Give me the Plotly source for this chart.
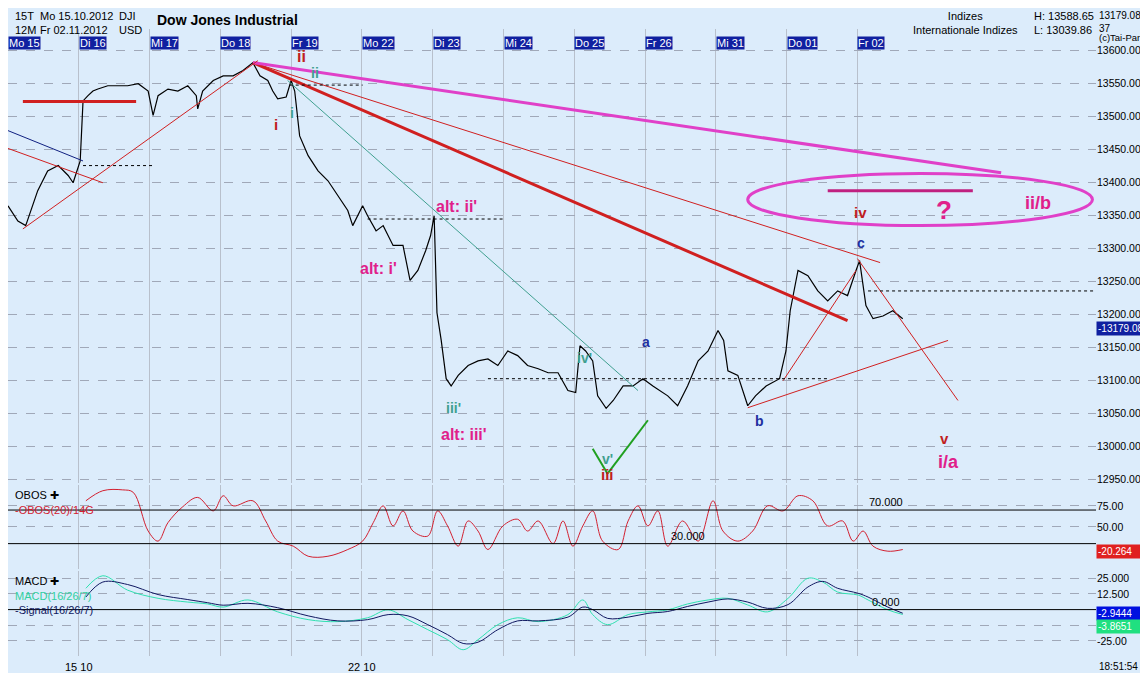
import plotly.graph_objects as go

# day labels (x in trading days from Mo 15.10.)
day_pos = [0, 1, 2, 3, 4, 5, 6, 7, 8, 9, 10, 11, 12]
day_labels = ["Mo 15", "Di 16", "Mi 17", "Do 18", "Fr 19", "Mo 22", "Di 23", "Mi 24", "Do 25", "Fr 26", "Mi 31", "Do 01", "Fr 02"]

# price (15 min)
px_x = [0, .14, .25, .42, .56, .71, .85, .92, 1.02, 1.06, 1.13, 1.2, 1.27, 1.41, 1.69, 1.84, 1.98, 2.05, 2.12, 2.26,
        2.4, 2.54, 2.66, 2.68, 2.75, 2.9, 3.04, 3.18, 3.32, 3.46, 3.56, 3.67, 3.74, 3.81, 3.93, 4.0, 4.05, 4.12, 4.24, 4.38,
        4.52, 4.66, 4.8, 4.87, 5.01, 5.08, 5.2, 5.3, 5.44, 5.58, 5.68, 5.79, 5.9, 5.97, 6.02, 6.06, 6.12, 6.19, 6.26, 6.36,
        6.5, 6.64, 6.78, 6.92, 7.06, 7.2, 7.34, 7.49, 7.63, 7.77, 7.91, 8.02, 8.08, 8.16, 8.26, 8.33, 8.45, 8.55, 8.69, 8.83,
        8.97, 9.11, 9.32, 9.46, 9.6, 9.75, 9.89, 10.03, 10.11, 10.17, 10.31, 10.45, 10.56, 10.71, 10.9, 10.99, 11.05, 11.16, 11.3, 11.44,
        11.58, 11.72, 11.86, 11.98, 12.03, 12.12, 12.22, 12.36, 12.5, 12.64]
px_y = [13365, 13342, 13335, 13388, 13418, 13426, 13411, 13400, 13433, 13524, 13532, 13539, 13542, 13547, 13547, 13550, 13539, 13502, 13532, 13542,
        13539, 13547, 13532, 13512, 13539, 13555, 13562, 13562, 13570, 13582, 13562, 13555, 13539, 13527, 13530, 13555, 13539, 13471, 13441, 13418,
        13403, 13380, 13358, 13335, 13365, 13350, 13327, 13335, 13305, 13305, 13252, 13267, 13297, 13320, 13350, 13203, 13161, 13103, 13092, 13108,
        13123, 13130, 13133, 13123, 13145, 13138, 13123, 13118, 13112, 13112, 13085, 13082, 13153, 13145, 13130, 13077, 13058, 13070, 13092, 13092,
        13103, 13092, 13077, 13062, 13092, 13130, 13145, 13176, 13161, 13115, 13108, 13062, 13077, 13092, 13103, 13145, 13206, 13267, 13259, 13236,
        13221, 13236, 13229, 13267, 13282, 13214, 13194, 13198, 13206, 13194]

# OBOS(20)/14G
ob_x = [1.1, 1.34, 1.62, 1.77, 1.98, 2.12, 2.26, 2.47, 2.68, 2.9, 3.04, 3.18, 3.46, 3.64, 3.81, 4.03, 4.24, 4.52, 4.8, 5.01,
        5.16, 5.3, 5.44, 5.58, 5.72, 5.93, 6.07, 6.21, 6.36, 6.5, 6.64, 6.78, 6.99, 7.2, 7.34, 7.49, 7.7, 7.84, 7.98, 8.12,
        8.26, 8.4, 8.62, 8.76, 8.9, 9.04, 9.18, 9.32, 9.53, 9.75, 9.96, 10.1, 10.31, 10.52, 10.73, 10.95, 11.16, 11.37, 11.58, 11.79,
        11.94, 12.08, 12.22, 12.43, 12.64]
ob_y = [81, 93, 94, 91, 45, 33, 55, 74, 85, 69, 87, 75, 81, 57, 33, 27, 15, 15, 23, 33,
        55, 75, 51, 69, 45, 39, 69, 51, 27, 57, 45, 23, 51, 59, 45, 57, 30, 57, 27, 51,
        69, 33, 23, 57, 75, 51, 69, 27, 57, 33, 81, 45, 33, 45, 75, 69, 87, 81, 51, 57,
        33, 45, 27, 21, 23]

# MACD(16/26/7) and Signal(16/26/7)
md_x = [1.1, 1.34, 1.69, 2.12, 2.54, 2.82, 3.04, 3.39, 3.81, 4.24, 4.66, 5.08, 5.37, 5.65, 5.93, 6.21, 6.43, 6.64, 6.92, 7.2,
        7.49, 7.91, 8.12, 8.26, 8.47, 8.76, 9.04, 9.32, 9.6, 9.89, 10.17, 10.45, 10.73, 11.02, 11.3, 11.51, 11.72, 12.01, 12.15, 12.43, 12.64]
macd_y = [17, 27, 15.5, 9, 6, 4.5, 2, 7.7, -1.8, -8, -9.6, -6.5, -0.2, -8, -16, -24, -32, -24, -12, -6.5,
          -9.6, -4, 7.7, -4, -12, -4, -1.8, -0.2, 4.5, 7.7, 9, 3.7, -1.8, 9, 25, 22, 14, 11.6, 7.7, -0.2, -3.9]
sig_y = [10, 22, 20, 12, 8, 5.5, 3.5, 5, 1.5, -5, -9, -8, -4, -5, -12, -20, -27, -26, -16, -9,
         -9, -6, 2, 0, -7, -6, -3, -1.5, 2.5, 6, 8.5, 6, 1, 4, 18, 22.5, 17, 13, 10, 2, -2.9]

last_price = 13179.08
high_price = 13588.65
low_price = 13039.86
obos_last = 20.264
macd_last = -2.9444
sig_last = -3.8651

BG = "#dcecfb"
fig = go.Figure()
fig.add_trace(go.Scatter(x=px_x, y=px_y, mode="lines", line=dict(color="black", width=1.2),
                         xaxis="x", yaxis="y", showlegend=False))
fig.add_trace(go.Scatter(x=ob_x, y=ob_y, mode="lines", line=dict(color="#d22030", width=1),
                         xaxis="x2", yaxis="y2", line_shape="spline", showlegend=False))
fig.add_trace(go.Scatter(x=md_x, y=macd_y, mode="lines", line=dict(color="#30e0b0", width=1),
                         xaxis="x3", yaxis="y3", line_shape="spline", showlegend=False))
fig.add_trace(go.Scatter(x=md_x, y=sig_y, mode="lines", line=dict(color="#101860", width=1),
                         xaxis="x3", yaxis="y3", line_shape="spline", showlegend=False))

xr = [0, 15.37]
grid = dict(showgrid=True, gridcolor="#a0a8b8", griddash="dash", gridwidth=1, tickfont=dict(size=10.5))
xcommon = dict(range=xr, tickvals=day_pos, showticklabels=False, showgrid=True, gridcolor="#b8c0cc",
               zeroline=False, ticks="")
fig.update_layout(
    width=1148, height=673, paper_bgcolor=BG, plot_bgcolor=BG,
    margin=dict(l=0, r=60, t=21, b=25),
    font=dict(family="Liberation Sans, Arial", size=11, color="black"),
    xaxis=dict(domain=[0, 1], anchor="y", **xcommon),
    xaxis2=dict(domain=[0, 1], anchor="y2", matches="x", **xcommon),
    xaxis3=dict(domain=[0, 1], anchor="y3", matches="x", **xcommon),
    yaxis=dict(domain=[0.276, 1], range=[12945, 13633], side="right", tickvals=[12950 + 50 * i for i in range(14)],
               ticktext=["%.2f" % (12950 + 50 * i) for i in range(14)], zeroline=False, **grid),
    yaxis2=dict(domain=[0.139, 0.273], range=[0, 100], side="right", tickvals=[50, 75], ticktext=["50.00", "75.00"],
                zeroline=False, **grid),
    yaxis3=dict(domain=[0, 0.136], range=[-37, 31], side="right", tickvals=[-25, -12.5, 12.5, 25],
                ticktext=["-25.00", "", "12.500", "25.000"], zeroline=False, **grid),
)


def line(x0, y0, x1, y1, color, width=1, dash="solid", ax="", **kw):
    fig.add_shape(type="line", x0=x0, y0=y0, x1=x1, y1=y1, xref="x" + ax, yref="y" + ax,
                  line=dict(color=color, width=width, dash=dash), **kw)


# trend lines
line(3.46, 13582, 11.86, 13191, "#d02020", 3)
line(3.46, 13582, 12.32, 13279, "#d02020", 1)
line(3.46, 13582, 14.03, 13415, "#e040c8", 3)
line(3.95, 13555, 8.9, 13085, "#40a090", 1)
line(0.21, 13330, 3.53, 13585, "#d02020", 1)
line(0, 13479, 1.06, 13433, "#102080", 1)
line(0, 13452, 1.34, 13400, "#d02020", 1)
line(0.21, 13523, 1.81, 13523, "#d02020", 3)
line(10.45, 13059, 13.28, 13161, "#d02020", 1)
line(10.95, 13100, 11.98, 13267, "#d02020", 1)
line(12.0, 13285, 13.42, 13070, "#d02020", 1)
line(11.58, 13388, 13.63, 13388, "#c02080", 3)
for a, b, y in [(1.06, 2.05, 13426), (3.98, 5.01, 13548), (5.08, 6.99, 13345), (6.78, 11.58, 13103), (12.15, 15.37, 13236)]:
    line(a, y, b, y, "black", 1, "dot")
line(8.26, 12997, 8.47, 12959, "#20a020", 2)
line(8.47, 12959, 9.04, 13040, "#20a020", 2)
fig.add_shape(type="circle", x0=10.45, x1=15.32, y0=13335, y1=13414, xref="x", yref="y",
              line=dict(color="#e040c8", width=3))
# indicator levels
line(0, 70, 15.37, 70, "black", 1, ax="2")
line(0, 30, 15.37, 30, "black", 1, ax="2")
line(0, 0, 15.37, 0, "black", 1, ax="3")

labels = [("ii", 4.14, 13592, "#c02020", 16), ("ii", 4.34, 13567, "#40a090", 14), ("i", 3.79, 13488, "#c02020", 15),
          ("i", 4.01, 13505, "#40a090", 14), ("alt: ii'", 6.33, 13364, "#e0208a", 16), ("alt: i'", 5.24, 13270, "#e0208a", 16),
          ("iii'", 6.29, 13058, "#40a090", 14), ("alt: iii'", 6.44, 13018, "#e0208a", 16), ("iv'", 8.14, 13135, "#40a090", 14),
          ("a", 9.01, 13158, "#2030a0", 14), ("v'", 8.47, 12982, "#40a090", 14), ("iii", 8.47, 12958, "#c02020", 15),
          ("b", 10.62, 13039, "#2030a0", 14), ("c", 12.05, 13308, "#2030a0", 14), ("iv", 12.05, 13355, "#c02020", 15),
          ("?", 13.22, 13359, "#e0208a", 26), ("ii/b", 14.55, 13370, "#e0208a", 18), ("v", 13.23, 13012, "#c02020", 15),
          ("i/a", 13.29, 12976, "#e0208a", 18)]
for t, x, y, c, s in labels:
    fig.add_annotation(x=x, y=y, text="<b>%s</b>" % t, showarrow=False, font=dict(color=c, size=s))

# day boxes
for p, lab in zip(day_pos, day_labels):
    fig.add_annotation(x=p, y=1, xref="x", yref="paper", text=lab, showarrow=False, xanchor="left", yanchor="top",
                       yshift=-7, bgcolor="#1020a0", font=dict(color="white", size=11), borderpad=0)
for p, lab in [(1, "15 10"), (5, "22 10")]:
    fig.add_annotation(x=p, y=0, xref="x", yref="paper", text=lab, showarrow=False, yanchor="top", yshift=-3,
                       font=dict(size=11))

# header
hdr = [(0.005, "15T<br>12M"), (0.028, "Mo 15.10.2012<br>Fr 02.11.2012"), (0.1, "DJI<br>USD")]
for x, t in hdr:
    fig.add_annotation(x=x, y=1, xref="paper", yref="paper", yshift=21, text=t, showarrow=False, xanchor="left",
                       yanchor="top", align="left", font=dict(size=11))
fig.add_annotation(x=0.135, y=1, xref="paper", yref="paper", yshift=19, text="<b>Dow Jones Industrial</b>",
                   showarrow=False, xanchor="left", yanchor="top", font=dict(size=14))
fig.add_annotation(x=0.93, y=1, xref="paper", yref="paper", yshift=21, text="Indizes<br>Internationale Indizes",
                   showarrow=False, xanchor="right", yanchor="top", align="center", font=dict(size=11))
fig.add_annotation(x=1.0, y=1, xref="paper", yref="paper", yshift=21, text="H: %.2f<br>L: %.2f" % (high_price, low_price),
                   showarrow=False, xanchor="right", yanchor="top", align="left", font=dict(size=11))
fig.add_annotation(x=1.001, y=1, xref="paper", yref="paper", yshift=21, text="%.2f<br>37" % last_price,
                   showarrow=False, xanchor="left", yanchor="top", align="left", font=dict(size=10))
fig.add_annotation(x=1.001, y=1, xref="paper", yref="paper", yshift=-1, text="(c)Tai-Pan",
                   showarrow=False, xanchor="left", yanchor="top", font=dict(size=9.5))

# value tags on the right
tags = [(last_price, "y", "#1020a0", "-%.2f" % last_price, 0), (obos_last, "y2", "#e02020", "%.3f" % -obos_last, 0),
        (macd_last, "y3", "#0010e0", "%.4f" % macd_last, 0), (sig_last, "y3", "#20e080", "%.4f" % sig_last, -12)]
for val, ax, col, txt, sh in tags:
    fig.add_annotation(x=1.0, y=val, xref="paper", yref=ax, text=txt, showarrow=False, xanchor="left", yshift=sh,
                       bgcolor=col, font=dict(color="white", size=10), width=56, align="left", borderpad=1)

fig.add_annotation(x=12.4, y=70, xref="x2", yref="y2", text="70.000", showarrow=False, yanchor="bottom")
fig.add_annotation(x=9.6, y=30, xref="x2", yref="y2", text="30.000", showarrow=False, yanchor="bottom")
fig.add_annotation(x=12.4, y=0, xref="x3", yref="y3", text="0.000", showarrow=False, yanchor="bottom")
fig.add_annotation(x=0.005, y=0.27, xref="paper", yref="paper", text="OBOS ✚", showarrow=False, xanchor="left",
                   yanchor="top", font=dict(size=11))
fig.add_annotation(x=0.005, y=0.245, xref="paper", yref="paper", text="-OBOS(20)/14G", showarrow=False, xanchor="left",
                   yanchor="top", font=dict(size=11, color="#d22030"))
fig.add_annotation(x=0.005, y=0.133, xref="paper", yref="paper", text="MACD ✚", showarrow=False, xanchor="left",
                   yanchor="top", font=dict(size=11))
fig.add_annotation(x=0.005, y=0.108, xref="paper", yref="paper", text="<span style='color:#30d0a0'>MACD(16/26/7)</span><br>-Signal(16/26/7)",
                   showarrow=False, xanchor="left", yanchor="top", align="left", font=dict(size=11, color="#101860"))
fig.add_annotation(x=1.001, y=0, xref="paper", yref="paper", yshift=-3, text="18:51:54", showarrow=False,
                   xanchor="left", yanchor="top", font=dict(size=10))

fig.write_html("out.html")
